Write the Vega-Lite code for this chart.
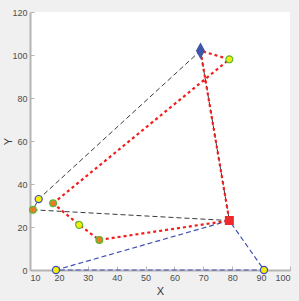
{
  "$schema": "https://vega.github.io/schema/vega-lite/v6.json",
  "width": 260,
  "height": 258,
  "autosize": {"type": "none"},
  "padding": {"left": 30, "top": 12, "right": 9, "bottom": 31},
  "background": "#f0f0f0",
  "view": {"fill": "white", "stroke": null},
  "config": {
    "font": "Liberation Sans Narrow, Liberation Sans, sans-serif",
    "axis": {
      "grid": false,
      "domainColor": "#b4b4b4",
      "domainWidth": 2,
      "tickColor": "#b4b4b4",
      "tickSize": -4,
      "labelPadding": 7,
      "labelColor": "#4d4d4d",
      "labelFontSize": 9,
      "labelOverlap": false,
      "titleColor": "#333333",
      "titleFontSize": 11,
      "titleFontWeight": "normal"
    }
  },
  "datasets": {
    "lines": [
      {"series": "black", "ord": 1, "x": 79, "y": 23},
      {"series": "black", "ord": 2, "x": 11, "y": 28},
      {"series": "black", "ord": 3, "x": 13, "y": 33},
      {"series": "black", "ord": 4, "x": 69, "y": 102},
      {"series": "black", "ord": 5, "x": 79, "y": 23},
      {"series": "blue", "ord": 1, "x": 79, "y": 23},
      {"series": "blue", "ord": 2, "x": 19, "y": 0},
      {"series": "blue", "ord": 3, "x": 91, "y": 0},
      {"series": "blue", "ord": 4, "x": 79, "y": 23},
      {"series": "red", "ord": 1, "x": 18, "y": 31},
      {"series": "red", "ord": 2, "x": 79, "y": 98},
      {"series": "red", "ord": 3, "x": 69, "y": 102},
      {"series": "red", "ord": 4, "x": 79, "y": 23},
      {"series": "red", "ord": 5, "x": 34, "y": 14},
      {"series": "red", "ord": 6, "x": 27, "y": 21},
      {"series": "red", "ord": 7, "x": 18, "y": 31}
    ],
    "points": [
      {"kind": "diamond", "x": 69, "y": 102},
      {"kind": "yg", "x": 79, "y": 98},
      {"kind": "square", "x": 79, "y": 23},
      {"kind": "yb", "x": 91, "y": 0},
      {"kind": "yb", "x": 19, "y": 0},
      {"kind": "yb", "x": 13, "y": 33},
      {"kind": "star", "x": 11, "y": 28},
      {"kind": "star", "x": 18, "y": 31},
      {"kind": "yg", "x": 27, "y": 21},
      {"kind": "star", "x": 34, "y": 14}
    ]
  },
  "encoding": {
    "x": {"field": "x", "type": "quantitative", "scale": {"domain": [10, 100], "nice": false}, "axis": {"values": [10,20,30,40,50,60,70,80,90,100], "title": "X", "titlePadding": 3}},
    "y": {"field": "y", "type": "quantitative", "scale": {"domain": [0, 120], "nice": false}, "axis": {"values": [0,20,40,60,80,100,120], "title": "Y", "titleX": -22, "titleY": 129, "titleAngle": -90, "titleBaseline": "middle", "titleAlign": "center"}}
  },
  "layer": [
    {
      "data": {"name": "lines"},
      "transform": [{"filter": "datum.series == 'black'"}],
      "mark": {"type": "line", "clip": false, "color": "#3a3a3a", "strokeWidth": 1, "strokeDash": [5, 3]},
      "encoding": {"order": {"field": "ord"}}
    },
    {
      "data": {"name": "lines"},
      "transform": [{"filter": "datum.series == 'blue'"}],
      "mark": {"type": "line", "clip": false, "color": "#4050b4", "strokeWidth": 1.2, "strokeDash": [5, 3]},
      "encoding": {"order": {"field": "ord"}}
    },
    {
      "data": {"name": "lines"},
      "transform": [{"filter": "datum.series == 'red'"}],
      "mark": {"type": "line", "clip": false, "color": "#f41c1c", "strokeWidth": 2.2, "strokeDash": [3, 3]},
      "encoding": {"order": {"field": "ord"}}
    },
    {
      "data": {"name": "points"},
      "mark": {"type": "point", "filled": true, "strokeWidth": 1.2, "clip": false},
      "encoding": {
        "shape": {"field": "kind", "scale": {"domain": ["diamond", "square", "yb", "yg", "star"], "range": ["M0,-1L0.55,0L0,1L-0.55,0Z", "square", "circle", "circle", "circle"]}, "legend": null},
        "fill": {"field": "kind", "scale": {"domain": ["diamond", "square", "yb", "yg", "star"], "range": ["#3f56a8", "#ee2a2a", "#f4ee10", "#f4ee10", "#f07a2a"]}, "legend": null},
        "stroke": {"field": "kind", "scale": {"domain": ["diamond", "square", "yb", "yg", "star"], "range": ["#3f56a8", "#ee2a2a", "#3a4db0", "#5cb832", "#5cb832"]}, "legend": null},
        "size": {"field": "kind", "scale": {"type": "ordinal", "domain": ["diamond", "square", "yb", "yg", "star"], "range": [200, 60, 50, 48, 46]}, "legend": null},
        "opacity": {"value": 1}
      }
    }
  ]
}
